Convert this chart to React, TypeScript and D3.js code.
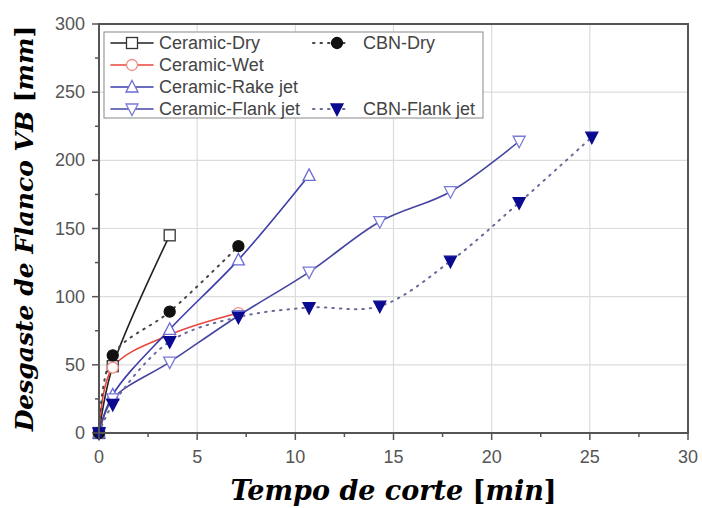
import React from "react";
import * as d3 from "d3";

const xTicks = [0, 5, 10, 15, 20, 25, 30];
const yTicks = [0, 50, 100, 150, 200, 250, 300];

const ceramicDryX = [0, 0.7, 3.6];
const ceramicDryY = [0, 49, 145];
const ceramicWetX = [0, 0.7, 3.6, 7.1];
const ceramicWetY = [0, 48, 72, 88];
const ceramicRakeX = [0, 0.7, 3.6, 7.1, 10.7];
const ceramicRakeY = [0, 28, 76, 127, 189];
const ceramicFlankX = [0, 0.7, 3.6, 7.1, 10.7, 14.3, 17.9, 21.4];
const ceramicFlankY = [0, 25, 52, 86, 118, 155, 177, 214];
const cbnDryX = [0, 0.7, 3.6, 7.1];
const cbnDryY = [0, 57, 89, 137];
const cbnFlankX = [0, 0.7, 3.6, 7.1, 10.7, 14.3, 17.9, 21.4, 25.1];
const cbnFlankY = [0, 21, 67, 85, 92, 93, 126, 169, 217];

type Series = {
  name: string;
  xs: number[];
  ys: number[];
  markerStroke: string;
  fill: string;
  marker: "square" | "circle" | "up" | "down";
  dotted: boolean;
  lineColor: string;
};

const series: Series[] = [
  { name: "Ceramic-Dry", xs: ceramicDryX, ys: ceramicDryY, lineColor: "#222", markerStroke: "#333", fill: "#fff", marker: "square", dotted: false },
  { name: "Ceramic-Wet", xs: ceramicWetX, ys: ceramicWetY, lineColor: "#e8453c", markerStroke: "#f08a80", fill: "#fff", marker: "circle", dotted: false },
  { name: "Ceramic-Rake jet", xs: ceramicRakeX, ys: ceramicRakeY, lineColor: "#3c3cac", markerStroke: "#6b6bd6", fill: "#fff", marker: "up", dotted: false },
  { name: "Ceramic-Flank jet", xs: ceramicFlankX, ys: ceramicFlankY, lineColor: "#4545a0", markerStroke: "#7a7ad8", fill: "#fff", marker: "down", dotted: false },
  { name: "CBN-Dry", xs: cbnDryX, ys: cbnDryY, lineColor: "#444", markerStroke: "#111", fill: "#111", marker: "circle", dotted: true },
  { name: "CBN-Flank jet", xs: cbnFlankX, ys: cbnFlankY, lineColor: "#6a6a9a", markerStroke: "#0a0a90", fill: "#0a0a90", marker: "down", dotted: true },
];

const W = 702, H = 508;
const L = 99, R = 688, T = 24, B = 433;

function Marker({ type, x, y, stroke, fill }: { type: string; x: number; y: number; stroke: string; fill: string }) {
  const s = 5.5;
  if (type === "square") return <rect x={x - s} y={y - s} width={2 * s} height={2 * s} fill={fill} stroke={stroke} strokeWidth={1.3} />;
  if (type === "circle") return <circle cx={x} cy={y} r={s} fill={fill} stroke={stroke} strokeWidth={1.3} />;
  if (type === "up") return <path d={`M${x},${y - s - 1}L${x + s + 0.5},${y + s - 0.5}L${x - s - 0.5},${y + s - 0.5}Z`} fill={fill} stroke={stroke} strokeWidth={1.3} />;
  return <path d={`M${x},${y + s + 1}L${x + s + 0.5},${y - s + 0.5}L${x - s - 0.5},${y - s + 0.5}Z`} fill={fill} stroke={stroke} strokeWidth={1.3} />;
}

export default function App() {
  const x = d3.scaleLinear().domain([0, 30]).range([L, R]);
  const y = d3.scaleLinear().domain([0, 300]).range([B, T]);
  const line = d3.line<[number, number]>().x(d => x(d[0])).y(d => y(d[1])).curve(d3.curveCatmullRom.alpha(0.5));
  const xMinor = d3.range(2.5, 30, 5);
  const yMinor = d3.range(25, 300, 50);
  const tickFont = "'Liberation Sans', Arial, sans-serif";
  const legendRows = [
    { s: series[0], col: 0, row: 0 },
    { s: series[1], col: 0, row: 1 },
    { s: series[2], col: 0, row: 2 },
    { s: series[3], col: 0, row: 3 },
    { s: series[4], col: 1, row: 0 },
    { s: series[5], col: 1, row: 3 },
  ];
  return (
    <svg width={W} height={H} style={{ position: "absolute", left: 0, top: 0, background: "#fff" }}>
      {xTicks.filter(t => t > 0 && t < 30).map(t => (
        <line key={"gx" + t} x1={x(t)} x2={x(t)} y1={T} y2={B} stroke="#dcdcdc" strokeWidth={1.2} />
      ))}
      {yTicks.filter(t => t > 0 && t < 300).map(t => (
        <line key={"gy" + t} x1={L} x2={R} y1={y(t)} y2={y(t)} stroke="#dcdcdc" strokeWidth={1.2} />
      ))}
      {series.map(s => {
        const pts = s.xs.map((v, i) => [v, s.ys[i]] as [number, number]);
        return (
          <path key={s.name} d={line(pts) || ""} fill="none" stroke={s.lineColor} strokeWidth={s.dotted ? 2 : 1.6} strokeDasharray={s.dotted ? "1.5,6" : undefined} strokeLinecap="round" />
        );
      })}
      {series.map(s => (
        <g key={s.name + "m"}>
          {s.xs.map((v, i) => (
            <Marker key={i} type={s.marker} x={x(v)} y={y(s.ys[i])} stroke={s.markerStroke} fill={s.fill} />
          ))}
        </g>
      ))}
      <rect x={L} y={T} width={R - L} height={B - T} fill="none" stroke="#555" strokeWidth={2} />
      {xTicks.map(t => (
        <g key={"xt" + t}>
          <line x1={x(t)} x2={x(t)} y1={B} y2={B + 7} stroke="#555" strokeWidth={1.5} />
          <text x={x(t)} y={B + 30} textAnchor="middle" fontFamily={tickFont} fontSize={18} fill="#555">{t}</text>
        </g>
      ))}
      {xMinor.map(t => (
        <line key={"xm" + t} x1={x(t)} x2={x(t)} y1={B} y2={B + 4} stroke="#555" strokeWidth={1.5} />
      ))}
      {yTicks.map(t => (
        <g key={"yt" + t}>
          <line x1={L - 7} x2={L} y1={y(t)} y2={y(t)} stroke="#555" strokeWidth={1.5} />
          <text x={L - 14} y={y(t) + 6} textAnchor="end" fontFamily={tickFont} fontSize={18} fill="#555">{t}</text>
        </g>
      ))}
      {yMinor.map(t => (
        <line key={"ym" + t} x1={L - 4} x2={L} y1={y(t)} y2={y(t)} stroke="#555" strokeWidth={1.5} />
      ))}
      <rect x={104} y={32} width={379} height={86} fill="#fff" stroke="#888" strokeWidth={1} />
      {legendRows.map(({ s, col, row }) => {
        const cy = 43 + row * 22;
        const x1 = col === 0 ? 111 : 313;
        const x2 = col === 0 ? 153 : 350;
        const mx = col === 0 ? 132 : 337;
        const tx = col === 0 ? 159 : 363;
        return (
          <g key={"lg" + s.name}>
            <line x1={x1} x2={x2} y1={cy} y2={cy} stroke={s.lineColor} strokeWidth={s.dotted ? 2 : 1.6} strokeDasharray={s.dotted ? "1.5,6" : undefined} strokeLinecap="round" />
            <Marker type={s.marker} x={mx} y={cy} stroke={s.markerStroke} fill={s.fill} />
            <text x={tx} y={cy + 6} fontFamily={tickFont} fontSize={18} fill="#444">{s.name}</text>
          </g>
        );
      })}
      <text x={(L + R) / 2} y={500} textAnchor="middle" fontFamily="'DejaVu Serif', serif" fontStyle="italic" fontWeight="bold" fontSize={27} fill="#000">
        Tempo de corte <tspan fontStyle="normal">[</tspan>min<tspan fontStyle="normal">]</tspan>
      </text>
      <text transform={`translate(33, ${(T + B) / 2}) rotate(-90)`} textAnchor="middle" fontFamily="'DejaVu Serif', serif" fontStyle="italic" fontWeight="bold" fontSize={25} fill="#000">
        Desgaste de Flanco VB <tspan fontStyle="normal">[</tspan>mm<tspan fontStyle="normal">]</tspan>
      </text>
    </svg>
  );
}
